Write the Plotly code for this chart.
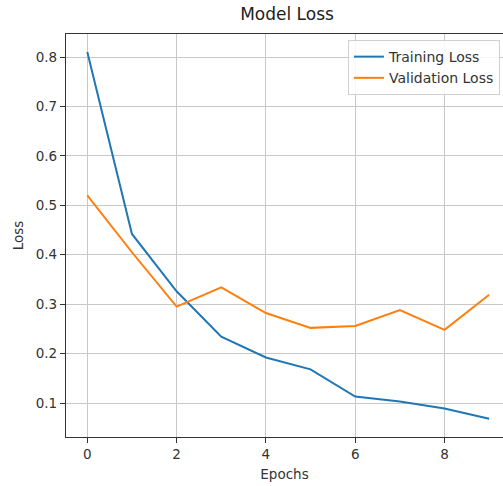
import plotly.graph_objects as go

epochs = [0, 1, 2, 3, 4, 5, 6, 7, 8, 9]
training_loss = [0.81, 0.442, 0.326, 0.234, 0.192, 0.168, 0.113, 0.103, 0.089, 0.068]
validation_loss = [0.52, 0.405, 0.295, 0.334, 0.282, 0.252, 0.256, 0.288, 0.248, 0.319]
x_ticks = [0, 2, 4, 6, 8]
y_ticks = [0.1, 0.2, 0.3, 0.4, 0.5, 0.6, 0.7, 0.8]

font_family = "DejaVu Sans, sans-serif"
text_color = "#333333"

fig = go.Figure()
fig.add_trace(go.Scatter(x=epochs, y=training_loss, mode="lines", name="Training Loss",
                         line=dict(color="#1f77b4", width=2)))
fig.add_trace(go.Scatter(x=epochs, y=validation_loss, mode="lines", name="Validation Loss",
                         line=dict(color="#ff7f0e", width=2)))

axis_common = dict(
    showgrid=True, gridcolor="#c8c8c8", gridwidth=1,
    showline=True, linecolor="#333333", linewidth=1.2,
    ticks="outside", ticklen=5, tickwidth=1, tickcolor="#333333",
    zeroline=False, automargin=False,
    tickfont=dict(family=font_family, size=13.5, color=text_color),
)

fig.update_layout(
    width=503, height=486,
    margin=dict(l=66, r=0, t=34, b=49, autoexpand=False),
    paper_bgcolor="white", plot_bgcolor="white",
    font=dict(family=font_family, color=text_color),
    title=dict(text="Model Loss", x=(287 / 503), xanchor="center",
               y=1 - 14 / 486, yanchor="middle", yref="container",
               font=dict(family=font_family, size=17, color="#222222")),
    xaxis=dict(range=[-0.477, 9.31], tickvals=x_ticks, ticktext=[str(t) for t in x_ticks],
               mirror=True,
               title=dict(text="Epochs", font=dict(family=font_family, size=13.5, color=text_color),
                          standoff=8),
               **axis_common),
    yaxis=dict(range=[0.0312, 0.8466], tickvals=y_ticks, ticktext=[f"{t:.1f}" for t in y_ticks],
               title=dict(text="Loss", font=dict(family=font_family, size=13.5, color=text_color),
                          standoff=8),
               **axis_common),
    legend=dict(x=0.993, xanchor="right", y=0.985, yanchor="top",
                bgcolor="rgba(255,255,255,0.85)", bordercolor="#d0d0d0", borderwidth=1,
                font=dict(family=font_family, size=14, color=text_color),
                tracegroupgap=0),
    showlegend=True,
)

fig.write_html("out.html", config={"displayModeBar": False},
               post_script="document.body.style.margin='0';")
